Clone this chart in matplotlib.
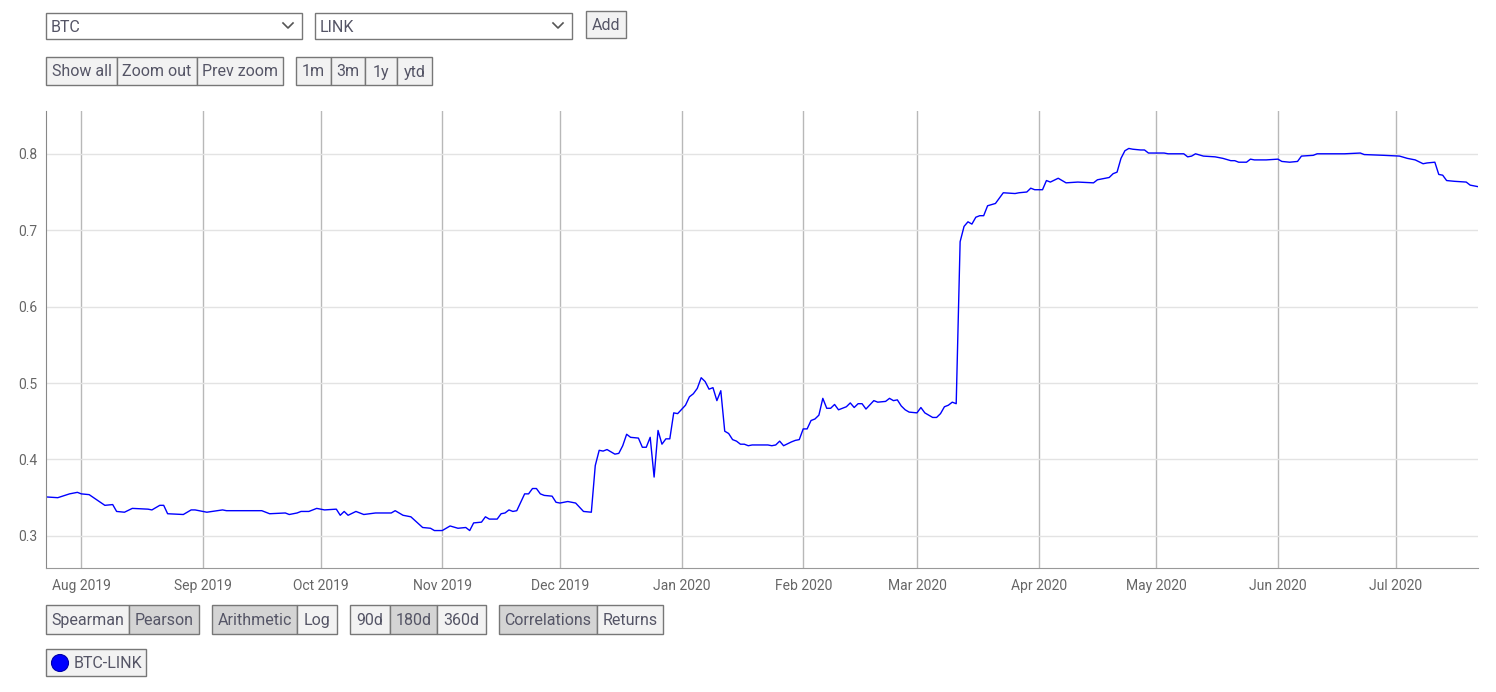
import matplotlib
matplotlib.use("Agg")
import matplotlib.pyplot as plt
import matplotlib.dates as mdates
from matplotlib.patches import Rectangle, Circle
import pandas as pd

# BTC-LINK 180d Pearson correlation
dates = [
    "2019-07-23", "2019-07-26", "2019-07-29", "2019-07-31", "2019-08-01", "2019-08-03",
    "2019-08-05", "2019-08-07", "2019-08-09", "2019-08-10", "2019-08-12", "2019-08-14",
    "2019-08-18", "2019-08-19", "2019-08-21", "2019-08-22", "2019-08-23", "2019-08-27",
    "2019-08-29", "2019-08-30", "2019-09-02", "2019-09-06", "2019-09-07", "2019-09-16",
    "2019-09-18", "2019-09-22", "2019-09-23", "2019-09-25", "2019-09-26", "2019-09-28",
    "2019-09-30", "2019-10-02", "2019-10-05", "2019-10-06", "2019-10-07", "2019-10-08",
    "2019-10-10", "2019-10-12", "2019-10-15", "2019-10-19", "2019-10-20", "2019-10-22",
    "2019-10-24", "2019-10-27", "2019-10-29", "2019-10-30", "2019-11-01", "2019-11-03",
    "2019-11-05", "2019-11-07", "2019-11-08", "2019-11-09", "2019-11-11", "2019-11-12",
    "2019-11-13", "2019-11-15", "2019-11-16", "2019-11-17", "2019-11-18", "2019-11-19",
    "2019-11-20", "2019-11-22", "2019-11-23", "2019-11-24", "2019-11-25", "2019-11-26",
    "2019-11-27", "2019-11-29", "2019-11-30", "2019-12-01", "2019-12-03", "2019-12-05",
    "2019-12-07", "2019-12-09", "2019-12-10", "2019-12-11", "2019-12-12", "2019-12-13",
    "2019-12-15", "2019-12-16", "2019-12-17", "2019-12-18", "2019-12-19", "2019-12-21",
    "2019-12-22", "2019-12-23", "2019-12-24", "2019-12-25", "2019-12-26", "2019-12-27",
    "2019-12-28", "2019-12-29", "2019-12-30", "2019-12-31", "2020-01-02", "2020-01-03",
    "2020-01-04", "2020-01-05", "2020-01-06", "2020-01-07", "2020-01-08", "2020-01-09",
    "2020-01-10", "2020-01-11", "2020-01-12", "2020-01-13", "2020-01-14", "2020-01-15",
    "2020-01-16", "2020-01-17", "2020-01-18", "2020-01-19", "2020-01-23", "2020-01-24",
    "2020-01-25", "2020-01-26", "2020-01-27", "2020-01-29", "2020-01-30", "2020-01-31",
    "2020-02-01", "2020-02-02", "2020-02-03", "2020-02-04", "2020-02-05", "2020-02-06",
    "2020-02-07", "2020-02-08", "2020-02-09", "2020-02-10", "2020-02-12", "2020-02-13",
    "2020-02-14", "2020-02-15", "2020-02-16", "2020-02-17", "2020-02-19", "2020-02-20",
    "2020-02-22", "2020-02-23", "2020-02-24", "2020-02-25", "2020-02-26", "2020-02-27",
    "2020-02-28", "2020-03-01", "2020-03-02", "2020-03-03", "2020-03-04", "2020-03-05",
    "2020-03-06", "2020-03-07", "2020-03-08", "2020-03-09", "2020-03-10", "2020-03-11",
    "2020-03-12", "2020-03-13", "2020-03-14", "2020-03-15", "2020-03-16", "2020-03-17",
    "2020-03-18", "2020-03-19", "2020-03-21", "2020-03-23", "2020-03-26", "2020-03-27",
    "2020-03-29", "2020-03-30", "2020-03-31", "2020-04-02", "2020-04-03", "2020-04-04",
    "2020-04-06", "2020-04-08", "2020-04-11", "2020-04-15", "2020-04-16", "2020-04-17",
    "2020-04-19", "2020-04-20", "2020-04-21", "2020-04-22", "2020-04-23", "2020-04-24",
    "2020-04-25", "2020-04-27", "2020-04-28", "2020-04-29", "2020-05-03", "2020-05-04",
    "2020-05-07", "2020-05-08", "2020-05-09", "2020-05-10", "2020-05-11", "2020-05-13",
    "2020-05-16", "2020-05-18", "2020-05-20", "2020-05-21", "2020-05-22", "2020-05-24",
    "2020-05-25", "2020-05-26", "2020-05-29", "2020-06-01", "2020-06-02", "2020-06-04",
    "2020-06-06", "2020-06-07", "2020-06-10", "2020-06-11", "2020-06-15", "2020-06-18",
    "2020-06-22", "2020-06-23", "2020-06-28", "2020-07-02", "2020-07-04", "2020-07-06",
    "2020-07-08", "2020-07-09", "2020-07-11", "2020-07-12", "2020-07-13", "2020-07-14",
    "2020-07-16", "2020-07-19", "2020-07-20", "2020-07-22",
]
corr = [
    0.351, 0.350, 0.355, 0.357, 0.355, 0.354,
    0.347, 0.340, 0.341, 0.332, 0.331, 0.336,
    0.335, 0.334, 0.340, 0.340, 0.329, 0.328,
    0.334, 0.334, 0.331, 0.334, 0.333, 0.333,
    0.329, 0.330, 0.328, 0.330, 0.332, 0.332,
    0.336, 0.334, 0.335, 0.327, 0.332, 0.327,
    0.332, 0.328, 0.330, 0.330, 0.333, 0.327,
    0.325, 0.311, 0.310, 0.307, 0.307, 0.313,
    0.310, 0.311, 0.307, 0.317, 0.318, 0.325,
    0.322, 0.322, 0.329, 0.330, 0.334, 0.332,
    0.333, 0.355, 0.355, 0.362, 0.362, 0.355,
    0.353, 0.352, 0.344, 0.343, 0.345, 0.343,
    0.332, 0.331, 0.392, 0.412, 0.411, 0.413,
    0.407, 0.408, 0.418, 0.433, 0.429, 0.428,
    0.416, 0.416, 0.429, 0.377, 0.438, 0.420,
    0.427, 0.427, 0.461, 0.460, 0.471, 0.482,
    0.486, 0.493, 0.507, 0.502, 0.492, 0.494,
    0.477, 0.490, 0.437, 0.434, 0.426, 0.424,
    0.420, 0.420, 0.418, 0.419, 0.419, 0.418,
    0.419, 0.424, 0.418, 0.423, 0.425, 0.426,
    0.440, 0.440, 0.451, 0.453, 0.458, 0.480,
    0.467, 0.467, 0.472, 0.465, 0.469, 0.474,
    0.468, 0.473, 0.473, 0.466, 0.477, 0.475,
    0.476, 0.480, 0.477, 0.478, 0.470, 0.465,
    0.462, 0.461, 0.468, 0.461, 0.458, 0.455,
    0.455, 0.460, 0.469, 0.471, 0.475, 0.473,
    0.685, 0.705, 0.711, 0.708, 0.717, 0.719,
    0.719, 0.732, 0.735, 0.749, 0.748, 0.749,
    0.750, 0.755, 0.753, 0.753, 0.765, 0.763,
    0.768, 0.762, 0.763, 0.762, 0.766, 0.767,
    0.769, 0.774, 0.776, 0.794, 0.804, 0.807,
    0.806, 0.805, 0.805, 0.801, 0.801, 0.800,
    0.800, 0.800, 0.796, 0.797, 0.800, 0.797,
    0.796, 0.794, 0.791, 0.791, 0.789, 0.789,
    0.793, 0.792, 0.792, 0.793, 0.790, 0.789,
    0.790, 0.797, 0.798, 0.800, 0.800, 0.800,
    0.801, 0.799, 0.798, 0.797, 0.794, 0.792,
    0.787, 0.788, 0.789, 0.773, 0.772, 0.765,
    0.764, 0.763, 0.759, 0.757,
]
y_ticks = [0.3, 0.4, 0.5, 0.6, 0.7, 0.8]
series_name = "BTC-LINK"

plt.rcParams['font.family'] = ['Roboto', 'DejaVu Sans']
W, H = 1496, 692
fig = plt.figure(figsize=(W / 100, H / 100), dpi=100)

# main plot
x = pd.to_datetime(dates)
ax = fig.add_axes([46 / W, 1 - 568 / H, (1478 - 46) / W, (568 - 111) / H])
ax.plot(x, corr, color="#0000ff", lw=1.0)
ax.set_xlim(x[0], x[-1])
ax.set_ylim(0.258, 0.856)
ax.set_yticks(y_ticks)
ax.xaxis.set_major_locator(mdates.MonthLocator())
ax.xaxis.set_major_formatter(mdates.DateFormatter("%b %Y"))
ax.grid(axis="x", color="#b8b8b8", lw=1.0)
ax.grid(axis="y", color="#e3e3e3", lw=1.0)
ax.set_axisbelow(True)
ax.tick_params(length=0, labelsize=10, labelcolor="#666666")
ax.tick_params(axis="x", pad=8)
ax.tick_params(axis="y", pad=6)
for s in ["top", "right"]:
    ax.spines[s].set_visible(False)
ax.spines["left"].set_color("#888888")
ax.spines["bottom"].set_color("#999999")

# controls above and below the chart, in pixel coords
ui = fig.add_axes([0, 0, 1, 1])
ui.set_xlim(0, W)
ui.set_ylim(H, 0)
ui.axis("off")

def button(x0, x1, y0, y1, label, fill="#f2f2f2", ha="center"):
    ui.add_patch(Rectangle((x0, y0), x1 - x0, y1 - y0, facecolor=fill,
                           edgecolor="#777777", lw=1.0))
    tx = (x0 + x1) / 2 if ha == "center" else x0 + 5
    ui.text(tx, (y0 + y1) / 2 + 1, label, ha=ha, va="center",
            fontsize=11.5, color="#555566")

def dropdown(x0, x1, label):
    button(x0, x1, 13, 39, label, fill="white", ha="left")
    cx = x1 - 14
    ui.plot([cx - 5, cx, cx + 5], [23, 28, 23], color="#555555", lw=1.2)

dropdown(46, 302, "BTC")
dropdown(315, 572, "LINK")
button(586, 626, 11, 38, "Add")

for lab, a, b in [("Show all", 46, 117), ("Zoom out", 117, 197), ("Prev zoom", 197, 283),
                  ("1m", 296, 331), ("3m", 331, 365), ("1y", 365, 397), ("ytd", 397, 432)]:
    button(a, b, 57, 85, lab)

sel = "#d4d4d4"
for lab, a, b, on in [("Spearman", 46, 129, False), ("Pearson", 129, 199, True),
                      ("Arithmetic", 212, 297, True), ("Log", 297, 337, False),
                      ("90d", 350, 390, False), ("180d", 390, 437, True), ("360d", 437, 486, False),
                      ("Correlations", 499, 597, True), ("Returns", 597, 663, False)]:
    button(a, b, 605, 634, lab, fill=sel if on else "#f2f2f2")

# legend box
ui.add_patch(Rectangle((46, 649), 100, 27, facecolor="#f2f2f2", edgecolor="#777777", lw=1.0))
ui.add_patch(Circle((60, 663), 8.5, facecolor="#0000ff", edgecolor="#0000aa", lw=0.8))
ui.text(74, 663, series_name, ha="left", va="center", fontsize=11.5, color="#555566")

fig.savefig("out.png", dpi=100)
